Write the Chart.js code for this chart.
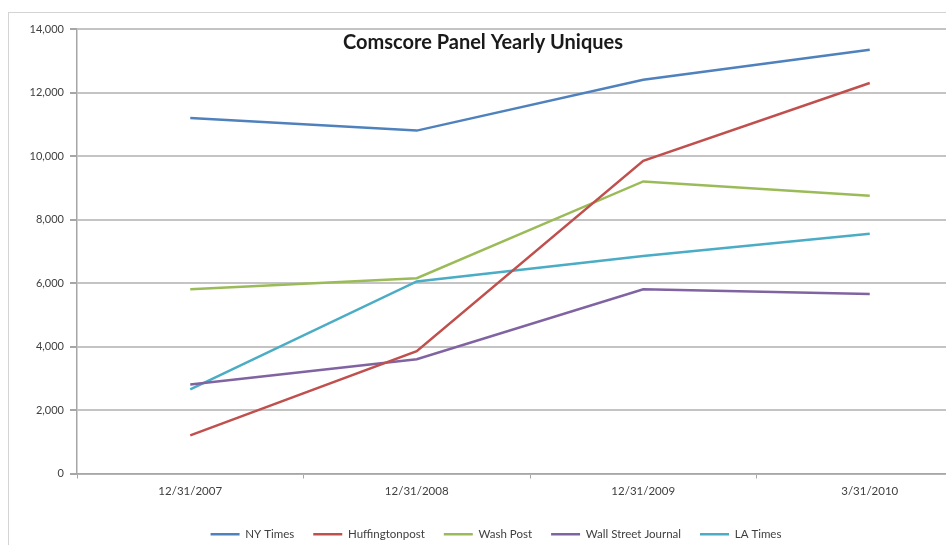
<!DOCTYPE html>
<html>
<head>
<meta charset="utf-8">
<script src="https://cdn.jsdelivr.net/npm/chart.js@4/dist/chart.umd.min.js"></script>
<style>
  html, body { margin: 0; padding: 0; background: #fff; overflow: hidden; }
  #wrap {
    position: absolute; left: 8px; top: 12px;
    width: 1000px; height: 540px;
    border: 1px solid #d4d4d4;
    box-sizing: border-box;
  }
</style>
</head>
<body>
<div id="wrap"><canvas id="chart"></canvas></div>
<script>
const categories = ['12/31/2007', '12/31/2008', '12/31/2009', '3/31/2010'];

const nyTimes = [11200, 10800, 12400, 13350];
const huffingtonPost = [1200, 3850, 9850, 12300];
const washPost = [5800, 6150, 9200, 8750];
const wallStreetJournal = [2800, 3600, 5800, 5650];
const laTimes = [2650, 6050, 6850, 7550];

const chartTitle = 'Comscore Panel Yearly Uniques';
const labelFont = 'Lato, "Open Sans", sans-serif';

// title sits inside the plot area, like the Excel overlay title
const overlayTitle = {
  id: 'overlayTitle',
  afterDraw(chart) {
    const ctx = chart.ctx;
    ctx.save();
    ctx.font = 'bold 20px ' + labelFont;
    ctx.fillStyle = '#1a1a1a';
    ctx.textAlign = 'center';
    ctx.textBaseline = 'middle';
    ctx.fillText(chartTitle, 474, 30);
    ctx.restore();
  }
};

const line = (label, data, color) => ({
  label: label,
  data: data,
  borderColor: color,
  backgroundColor: color,
  borderWidth: 2.5,
  pointRadius: 0,
  tension: 0,
  fill: false
});

new Chart(document.getElementById('chart'), {
  type: 'line',
  data: {
    labels: categories,
    datasets: [
      line('NY Times', nyTimes, '#4F81BD'),
      line('Huffingtonpost', huffingtonPost, '#C0504D'),
      line('Wash Post', washPost, '#9BBB59'),
      line('Wall Street Journal', wallStreetJournal, '#8064A2'),
      line('LA Times', laTimes, '#4BACC6')
    ]
  },
  options: {
    responsive: true,
    maintainAspectRatio: false,
    animation: false,
    layout: {
      padding: { top: 16, right: 24, bottom: 1, left: 0 }
    },
    scales: {
      x: {
        offset: true,
        grid: {
          offset: true,
          drawOnChartArea: false,
          color: '#a6a6a6',
          tickLength: 5
        },
        border: { color: '#a6a6a6', width: 1.5 },
        ticks: {
          color: '#404040',
          font: { family: labelFont, size: 11.5 },
          padding: 6,
          maxRotation: 0
        },
        afterFit(scale) { scale.height = 36; }
      },
      y: {
        min: 0,
        max: 14000,
        ticks: {
          stepSize: 2000,
          color: '#404040',
          font: { family: labelFont, size: 11 },
          padding: 6,
          callback: v => v.toLocaleString('en-US')
        },
        grid: {
          color: '#c4c4c4',
          lineWidth: 2,
          tickLength: 7,
          tickColor: '#a6a6a6'
        },
        border: { color: '#a6a6a6', width: 1.5 },
        afterFit(scale) { scale.width = 68; }
      }
    },
    plugins: {
      title: { display: false },
      tooltip: { enabled: false },
      legend: {
        position: 'bottom',
        labels: {
          usePointStyle: true,
          pointStyle: 'line',
          pointStyleWidth: 29,
          boxHeight: 6,
          padding: 19,
          color: '#404040',
          font: { family: labelFont, size: 11.5 }
        }
      }
    }
  },
  plugins: [overlayTitle]
});
</script>
</body>
</html>
